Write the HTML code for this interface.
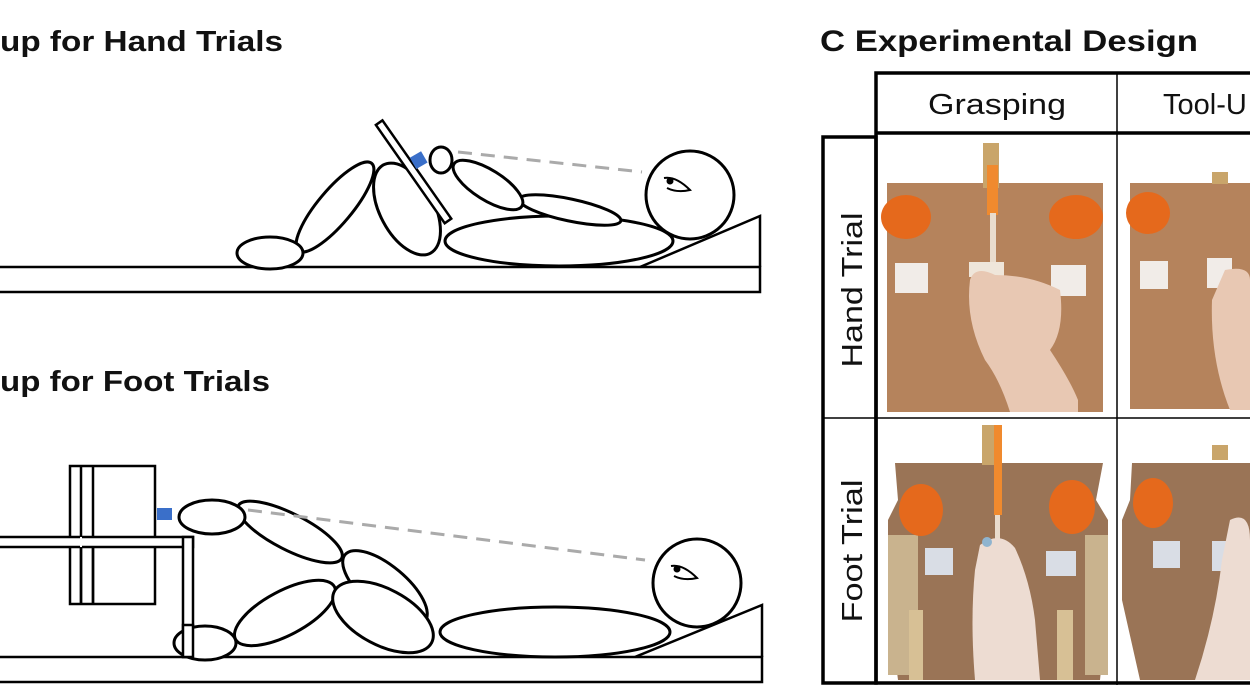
<!DOCTYPE html>
<html><head><meta charset="utf-8"><style>
html,body{margin:0;padding:0;background:#fff;width:1250px;height:700px;overflow:hidden}
svg{display:block}
text{font-family:"Liberation Sans",sans-serif}
</style></head><body>
<svg width="1250" height="700" viewBox="0 0 1250 700" xmlns="http://www.w3.org/2000/svg">
<g fill="none" stroke="#000" stroke-width="3">
<!-- Titles -->
<text x="0" y="51" font-size="29" font-weight="bold" fill="#111" stroke="none" textLength="283" lengthAdjust="spacingAndGlyphs">up for Hand Trials</text>
<text x="0" y="391" font-size="29" font-weight="bold" fill="#111" stroke="none" textLength="270" lengthAdjust="spacingAndGlyphs">up for Foot Trials</text>
<text x="820" y="51" font-size="30" font-weight="bold" fill="#111" stroke="none" textLength="378" lengthAdjust="spacingAndGlyphs">C Experimental Design</text>

<!-- HAND panel -->
<rect x="-3" y="267" width="763" height="25" stroke-width="2.5"/>
<polyline points="640,267 760,216 760,267" stroke-width="2.5"/>
<ellipse cx="559" cy="241" rx="114" ry="25" fill="#fff"/>
<ellipse cx="570" cy="210" rx="52" ry="11" transform="rotate(12 570 210)" fill="#fff"/>
<ellipse cx="488" cy="185" rx="40" ry="15" transform="rotate(32 488 185)" fill="#fff"/>
<ellipse cx="441" cy="160" rx="11" ry="13" fill="#fff"/>
<ellipse cx="335" cy="207" rx="17" ry="57" transform="rotate(40 335 207)" fill="#fff"/>
<ellipse cx="270" cy="253" rx="33" ry="16" fill="#fff"/>
<ellipse cx="407" cy="209" rx="27" ry="50" transform="rotate(-28 407 209)" fill="#fff"/>
<g transform="rotate(-35 413 171)"><rect x="409" y="112" width="8" height="120" fill="#fff" stroke-width="2.5"/></g>
<rect x="412" y="154" width="13" height="13" fill="#3a6fc9" stroke="none" transform="rotate(-30 418 160)"/>
<line x1="458" y1="152" x2="642" y2="172" stroke="#aaa" stroke-width="3" stroke-dasharray="14 9"/>
<circle cx="690" cy="195" r="44" fill="#fff"/>
<path d="M664 178 Q676 176 690 190 Q677 193 667 188" stroke-width="2"/>
<circle cx="670" cy="181" r="3.5" fill="#000" stroke="none"/>

<!-- FOOT panel -->
<rect x="-3" y="657" width="765" height="25" stroke-width="2.5"/>
<polyline points="635,657 762,605 762,657" stroke-width="2.5"/>
<rect x="70" y="466" width="85" height="138" stroke-width="2.5" fill="#fff"/>
<line x1="81" y1="466" x2="81" y2="604" stroke-width="2.5"/>
<line x1="93" y1="466" x2="93" y2="604" stroke-width="2.5"/>
<rect x="-3" y="537" width="196" height="10" stroke-width="2.5" fill="#fff"/>
<line x1="81" y1="537" x2="81" y2="547" stroke="#fff" stroke-width="2"/>
<rect x="183" y="537" width="10" height="120" stroke-width="2.5" fill="#fff"/>
<line x1="81" y1="547" x2="81" y2="604" stroke-width="2.5"/>
<line x1="93" y1="547" x2="93" y2="604" stroke-width="2.5"/>
<rect x="157" y="508" width="15" height="12" fill="#3a6fc9" stroke="none"/>
<ellipse cx="205" cy="643" rx="31" ry="17" fill="#fff"/>
<rect x="183" y="625" width="10" height="32" stroke-width="2.5" fill="#fff"/>
<ellipse cx="555" cy="632" rx="115" ry="25" fill="#fff"/>
<ellipse cx="285" cy="613" rx="56" ry="22" transform="rotate(-28 285 613)" fill="#fff"/>
<ellipse cx="385" cy="588" rx="52" ry="22" transform="rotate(40 385 588)" fill="#fff"/>
<ellipse cx="383" cy="617" rx="55" ry="28" transform="rotate(28 383 617)" fill="#fff"/>
<ellipse cx="290" cy="532" rx="58" ry="18" transform="rotate(27 290 532)" fill="#fff"/>
<ellipse cx="212" cy="517" rx="33" ry="17" fill="#fff"/>
<line x1="248" y1="510" x2="645" y2="560" stroke="#aaa" stroke-width="3" stroke-dasharray="14 9"/>
<circle cx="697" cy="583" r="44" fill="#fff"/>
<path d="M671 566 Q683 564 697 578 Q684 581 674 576" stroke-width="2"/>
<circle cx="677" cy="569" r="3.5" fill="#000" stroke="none"/>
</g>

<!-- TABLE -->
<g>
<!-- photos hand row -->
<rect x="887" y="183" width="216" height="229" fill="#b5835c"/>
<rect x="1130" y="183" width="120" height="226" fill="#b5835c"/>
<rect x="983" y="143" width="16" height="45" fill="#c9a56a"/>
<rect x="1212" y="172" width="16" height="12" fill="#c9a56a"/>
<rect x="987" y="165" width="11" height="50" fill="#f08a2e"/>
<rect x="990" y="213" width="6" height="55" fill="#e9dccd"/>
<ellipse cx="906" cy="217" rx="25" ry="22" fill="#e5691c"/>
<ellipse cx="1076" cy="217" rx="27" ry="22" fill="#e5691c"/>
<ellipse cx="1148" cy="213" rx="22" ry="21" fill="#e5691c"/>
<rect x="895" y="263" width="33" height="30" fill="#f1ece8"/>
<rect x="1051" y="265" width="35" height="31" fill="#f1ece8"/>
<rect x="1140" y="261" width="28" height="28" fill="#f1ece8"/>
<rect x="1207" y="258" width="25" height="30" fill="#f1ece8"/>
<rect x="969" y="262" width="35" height="15" fill="#efe6da"/>
<path d="M970 280 Q975 265 995 275 Q1030 275 1060 290 Q1065 330 1050 350 Q1070 380 1078 400 L1078 412 L1010 412 Q1000 380 985 360 Q965 320 970 280 Z" fill="#e8c8b3"/>
<path d="M1225 270 Q1250 265 1250 280 L1250 410 L1230 410 Q1210 360 1212 300 Z" fill="#e8c8b3"/>
<!-- photos foot row -->
<path d="M895 463 L1103 463 L1096 500 L1108 520 L1108 600 L1100 680 L898 680 L888 600 L888 520 L898 500 Z" fill="#9a7456"/>
<path d="M1132 463 L1250 463 L1250 680 L1140 680 L1122 600 L1122 520 L1130 500 Z" fill="#9a7456"/>
<rect x="888" y="535" width="30" height="140" fill="#c9b38e"/>
<rect x="1085" y="535" width="23" height="140" fill="#c9b38e"/>
<rect x="909" y="610" width="14" height="70" fill="#d7c095"/>
<rect x="1057" y="610" width="16" height="70" fill="#d7c095"/>
<rect x="982" y="425" width="18" height="40" fill="#c9a56a"/>
<rect x="1212" y="445" width="16" height="15" fill="#c9a56a"/>
<rect x="994" y="425" width="8" height="90" fill="#f08a2e"/>
<rect x="995" y="515" width="5" height="35" fill="#e9dccd"/>
<ellipse cx="921" cy="510" rx="22" ry="26" fill="#e5691c"/>
<ellipse cx="1072" cy="507" rx="23" ry="27" fill="#e5691c"/>
<ellipse cx="1153" cy="503" rx="20" ry="25" fill="#e5691c"/>
<rect x="925" y="548" width="28" height="27" fill="#d9dde5"/>
<rect x="1046" y="551" width="30" height="25" fill="#d9dde5"/>
<rect x="1153" y="541" width="27" height="27" fill="#d9dde5"/>
<rect x="1212" y="541" width="22" height="30" fill="#d9dde5"/>
<path d="M980 545 Q1000 530 1015 548 Q1030 580 1035 620 L1040 680 L975 680 Q970 620 975 570 Z" fill="#eddcd2"/>
<circle cx="987" cy="542" r="5" fill="#8fb4cf"/>
<path d="M1230 520 Q1250 510 1250 540 L1250 680 L1195 680 Q1215 620 1222 560 Z" fill="#eddcd2"/>

<!-- grid -->
<g fill="none" stroke="#000">
<rect x="876" y="73" width="380" height="610" stroke-width="3.5"/>
<line x1="876" y1="133" x2="1250" y2="133" stroke-width="3.5"/>
<line x1="1117" y1="73" x2="1117" y2="685" stroke-width="1.5"/>
<line x1="876" y1="418" x2="1250" y2="418" stroke-width="1.5"/>
<rect x="823" y="137" width="53" height="546" stroke-width="3.5"/>
<line x1="823" y1="418" x2="876" y2="418" stroke-width="1.5"/>
</g>
<text x="997" y="114" font-size="29" text-anchor="middle" fill="#111" textLength="138" lengthAdjust="spacingAndGlyphs">Grasping</text>
<text x="1163" y="114" font-size="29" fill="#111">Tool-U</text>
<text transform="translate(862 290) rotate(-90)" font-size="29" text-anchor="middle" fill="#111" textLength="155" lengthAdjust="spacingAndGlyphs">Hand Trial</text>
<text transform="translate(862 551) rotate(-90)" font-size="29" text-anchor="middle" fill="#111" textLength="143" lengthAdjust="spacingAndGlyphs">Foot Trial</text>
</g>
</svg>
</body></html>
